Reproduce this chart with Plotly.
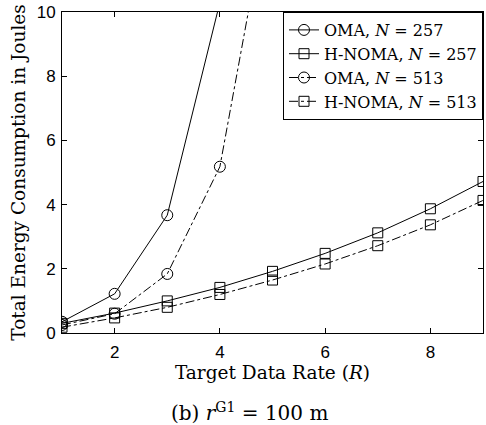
import plotly.graph_objects as go

rate = [1, 2, 3, 4, 5, 6, 7, 8, 9]
oma_257 = [0.35, 1.22, 3.67, 10.3]
hnoma_257 = [0.30, 0.62, 1.00, 1.42, 1.92, 2.48, 3.12, 3.87, 4.72]
oma_513 = [0.25, 0.60, 1.84, 5.18, 14.1]
hnoma_513 = [0.18, 0.47, 0.80, 1.20, 1.65, 2.15, 2.72, 3.37, 4.13]

names = ["OMA, <i>N</i> = 257", "H-NOMA, <i>N</i> = 257",
         "OMA, <i>N</i> = 513", "H-NOMA, <i>N</i> = 513"]

serif = "DejaVu Serif"
sans = "Liberation Sans"

fig = go.Figure()
series = [
    (oma_257, "circle-open", "solid", 11),
    (hnoma_257, "square-open", "solid", 10),
    (oma_513, "circle-open", "dashdot", 11),
    (hnoma_513, "square-open", "dashdot", 10),
]
for (vals, sym, dash, sz), nm in zip(series, names):
    fig.add_trace(go.Scatter(
        x=rate[:len(vals)], y=vals, name=nm, mode="lines+markers",
        line=dict(color="black", width=1, dash=dash),
        marker=dict(symbol=sym, size=sz, color="black", line=dict(width=1, color="black")),
    ))

axis_common = dict(
    showline=True, linecolor="black", linewidth=1, mirror="ticks",
    ticks="inside", ticklen=5, tickcolor="black", showgrid=False, zeroline=False,
    tickfont=dict(family=sans, size=17, color="black"),
)
fig.update_xaxes(range=[1, 9], tickvals=[2, 4, 6, 8], ticklabelstandoff=4,
                 title=dict(text="Target Data Rate (<i>R</i>)", font=dict(family=serif, size=18.5, color="black"), standoff=4),
                 **axis_common)
fig.update_yaxes(range=[0, 10], tickvals=[0, 2, 4, 6, 8, 10], ticklabelstandoff=2,
                 title=dict(text="Total Energy Consumption in Joules", font=dict(family=serif, size=18.5, color="black"), standoff=6),
                 **axis_common)

fig.add_annotation(text="(b) <i>r</i><sup>G1</sup> = 100 m", xref="paper", yref="paper",
                   x=0.445, y=-0.2, yanchor="top", showarrow=False,
                   font=dict(family=serif, size=20, color="black"))

fig.update_layout(
    width=486, height=425,
    margin=dict(l=62, r=3, t=12, b=92),
    plot_bgcolor="white", paper_bgcolor="white",
    legend=dict(x=1, y=1, xanchor="right", yanchor="top", bgcolor="white",
                bordercolor="black", borderwidth=1, tracegroupgap=0,
                font=dict(family=serif, size=16, color="black"),
                itemwidth=30),
    showlegend=True,
)

fig.write_html("out.html", config={"displayModeBar": False},
               post_script="document.body.style.margin='0';")
